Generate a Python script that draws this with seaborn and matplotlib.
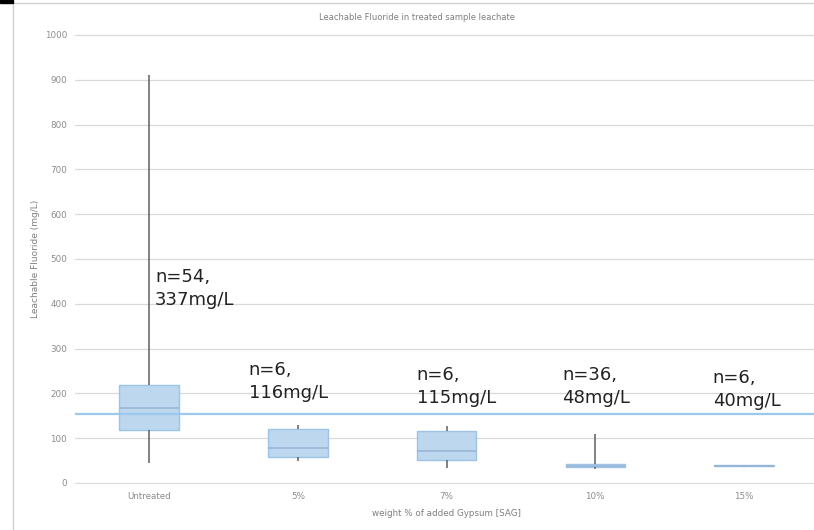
import matplotlib
matplotlib.use("Agg")
import matplotlib.pyplot as plt
from matplotlib.patches import Rectangle
import seaborn as sns
import pandas as pd

# ---- data (mg/L) ----
groups = ["Untreated", "5%", "7%", "10%", "15%"]
whisker_low = [44, 48, 34, 31, 36]
q1 = [118, 59, 51, 35, 37]
median = [168, 77, 71, 38, 38.5]
q3 = [218, 120, 116, 42, 40]
whisker_high = [910, 129, 128, 109, 41]

# annotation contents
sample_n = [54, 6, 6, 36, 6]
mean_mg = [337, 116, 115, 48, 40]

# horizontal blue reference line
ref_level = 153
y_ticks = list(range(0, 1001, 100))

# where the annotations sit (offset from group centre, top of text in mg/L)
label_dx = [0.04, -0.33, -0.20, -0.22, -0.21]
label_top = [480, 272, 261, 261, 254]

# five-number summary -> 5 points per group; with whis=(0, 100) seaborn
# puts quartiles/median/whiskers exactly on these values
rows = []
for g, lo, a, m, b, hi in zip(groups, whisker_low, q1, median, q3, whisker_high):
    for v in (lo, a, m, b, hi):
        rows.append({"group": g, "value": v})
df = pd.DataFrame(rows)

sns.set_theme(style="white")
plt.rcParams["font.family"] = ["DejaVu Sans"]

fig = plt.figure(figsize=(8.14, 5.30), dpi=100)
ax = fig.add_axes([0.0917, 0.0870, 0.9137, 0.8808])

sns.boxplot(
    data=df, x="group", y="value", order=groups,
    whis=(0, 100), width=0.40, saturation=1,
    color="#bdd7ee", linecolor="#9dc3e6", linewidth=1,
    showcaps=False, fliersize=0,
    whiskerprops={"color": "#5f5f5f", "linewidth": 1.1},
    medianprops={"color": "#95b3d3", "linewidth": 1.1},
    ax=ax,
)

ax.axhline(ref_level, color="#9cc8ee", linewidth=1.6, zorder=3)

ax.set_ylim(-2, 1040)
ax.set_xlim(-0.5, 4.5)
ax.set_yticks(y_ticks)
ax.set_axisbelow(True)
ax.grid(axis="y", color="#d9d9d9", linewidth=0.9)
ax.grid(axis="x", visible=False)
for s in ax.spines.values():
    s.set_visible(False)
ax.tick_params(axis="both", length=0, labelsize=6.3, labelcolor="#8c8c8c")
ax.tick_params(axis="x", pad=6)
ax.tick_params(axis="y", pad=5.5)
ax.set_xlabel("")
ax.set_ylabel("")

for i, (n, m) in enumerate(zip(sample_n, mean_mg)):
    ax.text(i + label_dx[i], label_top[i], f"n={n},\n{m}mg/L",
            ha="left", va="top", fontsize=13, linespacing=1.33,
            color="#222222", zorder=5)

fig.text(417 / 814, 1 - 17 / 530, "Leachable Fluoride in treated sample leachate",
         ha="center", va="center", fontsize=6, color="#7f7f7f")
fig.text(446 / 814, 1 - 514 / 530, "weight % of added Gypsum [SAG]",
         ha="center", va="center", fontsize=6.3, color="#7f7f7f")
fig.text(35 / 814, 1 - 259 / 530, "Leachable Fluoride (mg/L)",
         ha="center", va="center", rotation=90, fontsize=6.5, color="#7f7f7f")

# chart-area frame and the dark corner of the screenshot
fig.patches.append(Rectangle((13 / 814, -0.01), 1.1, 1.01 - 2.5 / 530, fill=False,
                             edgecolor="#d0d0d0", linewidth=1,
                             transform=fig.transFigure, figure=fig))
fig.patches.append(Rectangle((0, 1 - 3 / 530), 13 / 814, 3 / 530, color="black",
                             transform=fig.transFigure, figure=fig))

fig.savefig("out.png", dpi=100)
